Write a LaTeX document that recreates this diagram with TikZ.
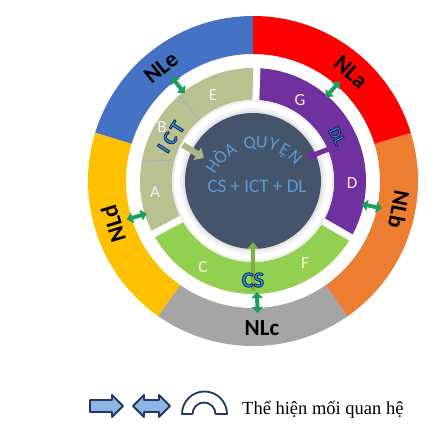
\documentclass[tikz,border=0pt]{standalone}
\usepackage{fontspec}
\setmainfont{Carlito}
\newfontfamily\timesf{Liberation Serif}
\usetikzlibrary{arrows.meta,calc}
\definecolor{cBlue}{HTML}{4472C4}
\definecolor{cRed}{HTML}{FF0000}
\definecolor{cOrange}{HTML}{ED7D31}
\definecolor{cGray}{HTML}{A5A5A5}
\definecolor{cYellow}{HTML}{FFC000}
\definecolor{cOlive}{HTML}{B8C18F}
\definecolor{cOliveD}{HTML}{AEB784}
\definecolor{cPurple}{HTML}{7030A0}
\definecolor{cGreen}{HTML}{92D050}
\definecolor{cDark}{HTML}{44546A}
\definecolor{cText}{HTML}{5B9BD5}
\definecolor{cArrow}{HTML}{1AA05A}
\definecolor{cLbl}{HTML}{2A8CF0}
\definecolor{cNavy}{HTML}{0E1A30}
\definecolor{cLegF}{HTML}{8EB4E3}
\definecolor{cLegD}{HTML}{1F3864}
\definecolor{cThin}{HTML}{8FB0D8}
\newcommand{\ringsec}[5]{\fill[#1] (#2:#5) arc[start angle=#2,end angle=#3,radius=#5] -- (#3:#4) arc[start angle=#3,end angle=#2,radius=#4] -- cycle;}
\newcommand{\olabel}[5]{%
  \node[font=#4, text=cLbl, rotate=#3, inner sep=0pt] (#1) at (#2)
    {\special{pdf:literal direct 2 Tr 0.7 w 0.05 0.1 0.19 RG}#5\special{pdf:literal direct 0 Tr}};}
\tikzset{
  nl/.style={font=\bfseries\fontsize{23}{23}\selectfont, text=black, inner sep=0pt},
  seg/.style={font=\fontsize{17}{17}\selectfont, inner sep=0pt},
  dbl/.style={cArrow, line width=4pt, {Triangle[length=6pt,width=11pt]}-{Triangle[length=6pt,width=11pt]}},
  hq/.style={font=\fontsize{18}{18}\selectfont, text=cText, inner sep=0pt, anchor=base},
  leg/.style={fill=cLegF, draw=cLegD, line width=1.8pt, line join=round}
}
\begin{document}
\begin{tikzpicture}[x=1pt,y=1pt]
\useasboundingbox (0,0) rectangle (445,431);
\coordinate (C) at (253,250);
\begin{scope}[shift={(253,250)}]
  % outer ring
  \ringsec{cBlue}{90}{163}{127pt}{165pt}
  \ringsec{cYellow}{163}{235}{127pt}{165pt}
  \ringsec{cGray}{235}{305}{127pt}{165pt}
  \ringsec{cOrange}{305}{377}{127pt}{165pt}
  \ringsec{cRed}{17}{90}{127pt}{165pt}
  % middle ring
  \ringsec{cOlive}{88}{208}{81pt}{113pt}
  \ringsec{cGreen}{208}{330}{81pt}{113pt}
  \ringsec{cPurple}{-30}{88}{81pt}{113pt}
  \foreach \g in {88,208,330}{\draw[white, line width=7pt] (\g:78pt) -- (\g:116pt);}
  \draw[cThin, line width=0.6pt] (131:81pt) -- (131:113pt);
  \draw[cThin, line width=0.6pt] (165:81pt) -- (170:113pt);
  % light ring and core
  \fill[gray!14] (0,0) circle[radius=81pt];
  \fill[white] (0,0) circle[radius=79pt];
  \fill[gray!10] (0,0) circle[radius=73pt];
  \fill[gray!22] (0,0) circle[radius=70pt];
  \fill[cDark] (0,0) circle[radius=68pt];
  % outer labels
  \node[nl, rotate=39] (nle) at (129:146pt) {NLe};
  \node[nl, rotate=-42] (nla) at (48:146pt) {NLa};
  \node[nl, rotate=-101] (nlb) at (-11:149pt) {NLb};
  \node[nl] (nlc) at (-86.5:147pt) {NLc};
  \node[nl, rotate=107] (nld) at (197:146pt) {NLd};
  % double arrows
  \foreach \n/\ang in {e/128,a/49,b/-12,c/-88,d/197}{
    \coordinate (d\n1) at (\ang:111pt);
    \coordinate (d\n2) at (\ang:132pt);
    \draw[dbl] (d\n1) -- (d\n2);
  }
\end{scope}
% segment letters
\node[seg, text=blue!6] (E) at (213,336) {E};
\node[seg, text=blue!6] (B) at (162,304) {B};
\node[seg, text=blue!6] (A) at (155,239) {A};
\node[seg, text=red!8] (G) at (300,331) {G};
\node[seg, text=red!8] (D) at (352,248) {D};
\node[seg, text=yellow!15] (Cl) at (203,164) {C};
\node[seg, text=yellow!15] (F) at (305,168) {F};
% inner arrows
\coordinate (ictS) at (183,286);
\coordinate (ictE) at (204,273);
\draw[cOliveD, line width=6pt, -{Triangle[length=8pt,width=14pt]}] (ictS) -- (ictE);
\coordinate (dlS) at (334,284);
\coordinate (dlE) at (306,273);
\draw[cPurple, line width=5pt, -{Triangle[length=8pt,width=13pt]}] (dlS) -- (dlE);
\coordinate (csS) at (253,140);
\coordinate (csE) at (253,189);
\draw[cGreen!85!black, line width=3.5pt, -{Triangle[length=7pt,width=11pt]}] (csS) -- (csE);
% blue outlined labels
\olabel{ict}{171,294}{57}{\bfseries\fontsize{20}{20}\selectfont}{I\hspace{4pt}C\hspace{3pt}T}
\olabel{dl}{337,295}{-62}{\bfseries\fontsize{17}{17}\selectfont}{DL}
\olabel{cs}{253,151}{0}{\bfseries\fontsize{22}{22}\selectfont}{CS}
% core text
\begin{scope}[shift={(258,235)}]
  \foreach \ang/\ch in {147/H,134/Ò,121/A,99/Q,86/U,73/Y,60/Ệ,46/N}{
    \node[hq, rotate=\ang-90] (hq\ang) at (\ang:48pt) {\ch};
  }
\end{scope}
\node[font=\fontsize{19}{19}\selectfont, text=cText, inner sep=0pt] (core) at (257,245) {CS + ICT + DL};
% legend
\draw[leg] (90,19) -- (112,19) -- (112,14) -- (123,25) -- (112,36) -- (112,31) -- (90,31) -- cycle;
\draw[leg] (133,25) -- (144,36) -- (144,31) -- (159,31) -- (159,36) -- (170,25) -- (159,14) -- (159,19) -- (144,19) -- (144,14) -- cycle;
\draw[draw=cLegD, fill=white, line width=1.8pt, line join=round] (182,17) arc[start angle=180,end angle=0,radius=22.5pt] -- (215.5,17) arc[start angle=0,end angle=180,radius=11.5pt] -- cycle;
\node[anchor=base west, inner sep=0pt, font=\timesf\fontsize{18.5}{20}\selectfont] (legtext) at (242,16) {Thể hiện mối quan hệ};
\end{tikzpicture}
\end{document}
